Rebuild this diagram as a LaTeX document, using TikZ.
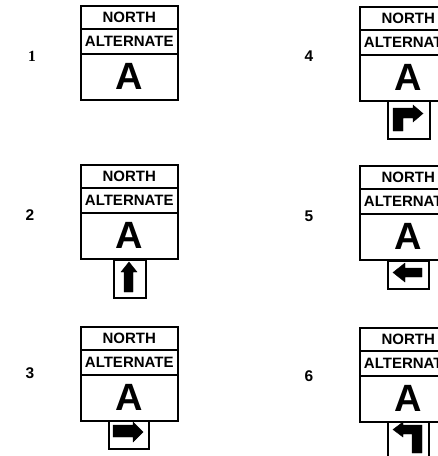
\documentclass[tikz,border=0pt]{standalone}
\usepackage{fontspec}
\setmainfont{Liberation Sans}
\newfontfamily\numserif{Liberation Serif}
\begin{document}
\begin{tikzpicture}[x=1pt,y=-1pt,
  band/.style={draw,line width=1.5pt,inner sep=0pt,anchor=north west,minimum width=97pt},
  smalltxt/.style={font=\bfseries\fontsize{15}{15}\selectfont},
  bigtxt/.style={font=\bfseries\fontsize{38}{38}\selectfont},
  plate/.style={draw,line width=1.8pt,inner sep=0pt,anchor=north west},
  arrowfill/.style={fill=black,draw=black,line width=0.4pt,line join=miter},
  num/.style={font=\bfseries\fontsize{15.5}{15.5}\selectfont}]
\useasboundingbox (0,0) rectangle (438,456);
\clip (0,0) rectangle (438,456);
\newcommand\hwsign[3]{%
  \node[band,smalltxt,minimum height=23pt] (#1n) at (#2,#3) {NORTH};
  \node[band,smalltxt,minimum height=25pt] (#1a) at (#2,#3+23) {ALTERNATE};
  \node[band,bigtxt,minimum height=46pt] (#1b) at (#2,#3+48) {A};
}
% signs
\hwsign{s1}{80}{5}
\hwsign{s2}{80}{164}
\hwsign{s3}{80}{326}
\hwsign{s4}{359}{6}
\hwsign{s5}{359}{165}
\hwsign{s6}{359}{327}
% numbers
\node[num] (n1) at (32,56) {\numserif\bfseries 1};
\node[num] (n2) at (30,215) {2};
\node[num] (n3) at (30,373) {3};
\node[num] (n4) at (309,56) {4};
\node[num] (n5) at (309,216) {5};
\node[num] (n6) at (309,376) {6};
% plates
\node[plate,minimum width=32pt,minimum height=38pt] (p2) at (113,259) {};
\node[plate,minimum width=40pt,minimum height=28pt] (p3) at (108,420) {};
\node[plate,minimum width=42pt,minimum height=38pt] (p4) at (387,100) {};
\node[plate,minimum width=41pt,minimum height=28pt] (p5) at (387,260) {};
\node[plate,minimum width=41pt,minimum height=45pt] (p6) at (387,421) {};
% arrows
\fill[arrowfill] (129,262) -- (137,272) -- (133,272) -- (133,292) -- (124,292) -- (124,272) -- (121,272) -- cycle;
\fill[arrowfill] (113,425) -- (133,425) -- (133,422) -- (143,432) -- (133,442) -- (133,437) -- (113,437) -- cycle;
\fill[arrowfill] (393,131) -- (393,108) -- (413,108) -- (413,105) -- (423,113.5) -- (413,122) -- (413,118) -- (403,118) -- (403,131) -- cycle;
\fill[arrowfill] (393,272.5) -- (405,263) -- (405,268) -- (422,268) -- (422,277) -- (405,277) -- (405,282) -- cycle;
\fill[arrowfill] (393,429.5) -- (403,422) -- (403,425) -- (422,425) -- (422,453) -- (412,453) -- (412,434) -- (403,434) -- (403,437) -- cycle;
\end{tikzpicture}
\end{document}
